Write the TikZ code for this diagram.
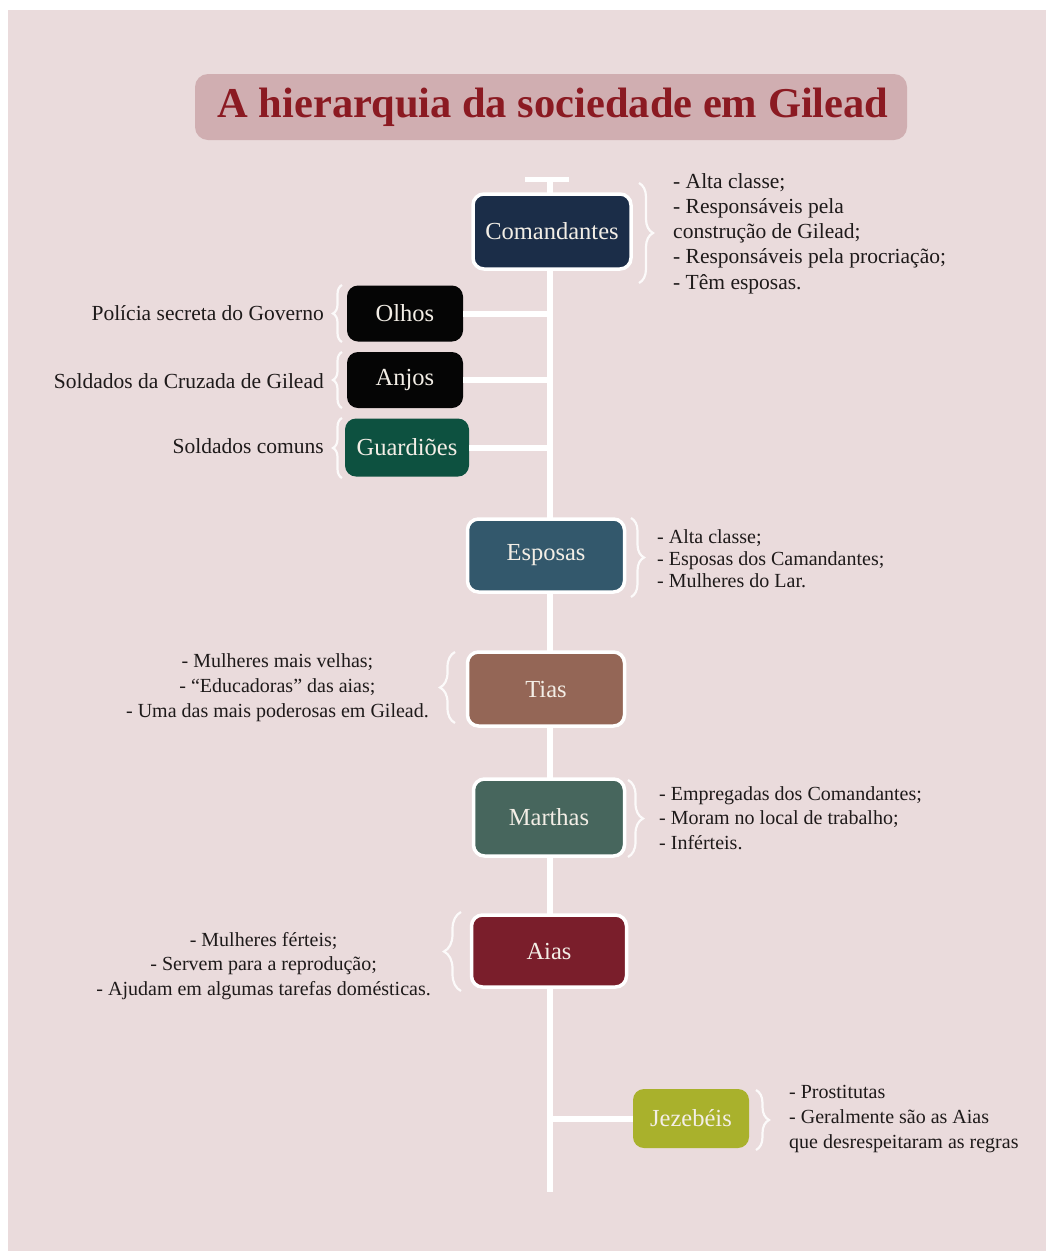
\documentclass[tikz,border=0pt]{standalone}
\usepackage{fontspec}
\setmainfont{Liberation Serif}
\usetikzlibrary{decorations.pathreplacing}
\definecolor{bg}{HTML}{EADBDC}
\definecolor{titlebg}{HTML}{D0AEB1}
\definecolor{titlefg}{HTML}{8B1A22}
\definecolor{labelfg}{HTML}{F3EEE6}
\definecolor{cComandantes}{HTML}{1B2D48}
\definecolor{cOlhos}{HTML}{050505}
\definecolor{cGuardioes}{HTML}{0D5140}
\definecolor{cEsposas}{HTML}{33586C}
\definecolor{cTias}{HTML}{946656}
\definecolor{cMarthas}{HTML}{47665D}
\definecolor{cAias}{HTML}{7A1E2B}
\definecolor{cJezebeis}{HTML}{A9B12C}
\definecolor{txt}{HTML}{1E1A1A}
\definecolor{linec}{HTML}{FFFFFF}
\definecolor{bracec}{HTML}{FCFAFA}
\tikzset{
  rankbox/.style={rounded corners=11pt, inner sep=0pt, text=labelfg,
    font=\fontsize{24.5}{28}\selectfont},
  framed/.style={rankbox, draw=white, line width=3.5pt},
  plain/.style={rankbox, draw=none},
  desc/.style={inner sep=0pt, text=txt, font=\fontsize{21.5}{25.2}\selectfont},
  descs/.style={inner sep=0pt, text=txt, font=\fontsize{20}{22}\selectfont},
  axis/.style={draw=linec, line width=6pt},
  branch/.style={draw=linec, line width=6pt},
  bracer/.style={draw=bracec, line width=2.2pt, decorate,
    decoration={brace, amplitude=#1}},
  bracer/.default=12pt
}
\begin{document}
\begin{tikzpicture}[x=1pt, y=-1pt]
\useasboundingbox (0,0) rectangle (1046,1251);
\fill[white] (0,0) rectangle (1046,1251);
\fill[bg] (8,10) rectangle (1046,1251);

% title
\node[fill=titlebg, rounded corners=13pt, minimum width=712pt, minimum height=66pt,
  inner sep=0pt] (titlebox) at (551,107) {};
\node[text=titlefg, font=\bfseries\fontsize{42.5}{48}\selectfont] (title) at (553,107) {A hierarquia da sociedade em Gilead};

% axis
\coordinate (top) at (550,181);
\coordinate (bot) at (550,1192);
\coordinate (capl) at (525,179);
\coordinate (capr) at (569,179);
\draw[axis] (top) -- (bot);
\draw[draw=linec, line width=5pt] (capl) -- (capr);

% boxes
\node[framed, fill=cComandantes, minimum width=158pt, minimum height=75pt] (com) at (552,231.5) {Comandantes};
\node[plain, fill=cOlhos, minimum width=116pt, minimum height=56pt] (olh) at (405,313.5) {Olhos};
\node[plain, fill=cOlhos, minimum width=116pt, minimum height=56pt] (anj) at (405,380) {Anjos};
\node[plain, fill=cGuardioes, minimum width=124pt, minimum height=58pt] (gua) at (407,447.5) {Guardiões};
\node[framed, fill=cEsposas, minimum width=157pt, minimum height=73pt] (esp) at (546,555.5) {Esposas};
\node[framed, fill=cTias, minimum width=157pt, minimum height=74pt] (tia) at (546,689) {Tias};
\node[framed, fill=cMarthas, minimum width=151pt, minimum height=77pt] (mar) at (549,817.5) {Marthas};
\node[framed, fill=cAias, minimum width=155pt, minimum height=72pt] (aia) at (549,951) {Aias};
\node[plain, fill=cJezebeis, minimum width=116pt, minimum height=59pt] (jez) at (691,1118.5) {Jezebéis};

% branches
\draw[branch] (olh.east) -- (olh.east -| top);
\draw[branch] (anj.east) -- (anj.east -| top);
\draw[branch] (gua.east) -- (gua.east -| top);
\draw[branch] (jez.west) -- (jez.west -| top);

% descriptions
\node[desc, align=left, anchor=west] (dcom) at (673,233.5) {- Alta classe;\\- Responsáveis pela\\construção de Gilead;\\- Responsáveis pela procriação;\\- Têm esposas.};
\node[desc, anchor=east] (dolh) at (324,313) {Polícia secreta do Governo};
\node[desc, anchor=east] (danj) at (324,381) {Soldados da Cruzada de Gilead};
\node[desc, anchor=east] (dgua) at (324,446) {Soldados comuns};
\node[descs, align=left, anchor=west] (desp) at (657,559) {- Alta classe;\\- Esposas dos Camandantes;\\- Mulheres do Lar.};
\node[descs, align=center, anchor=east, font=\fontsize{20}{25}\selectfont] (dtia) at (429,688) {- Mulheres mais velhas;\\- “Educadoras” das aias;\\- Uma das mais poderosas em Gilead.};
\node[descs, align=left, anchor=west, font=\fontsize{20}{24.5}\selectfont] (dmar) at (659,818) {- Empregadas dos Comandantes;\\- Moram no local de trabalho;\\- Inférteis.};
\node[descs, align=center, anchor=east, font=\fontsize{20}{24.5}\selectfont] (daia) at (431,966) {- Mulheres férteis;\\- Servem para a reprodução;\\- Ajudam em algumas tarefas domésticas.};
\node[descs, align=left, anchor=west, font=\fontsize{20}{25}\selectfont] (djez) at (789,1119) {- Prostitutas\\- Geralmente são as Aias\\que desrespeitaram as regras};

% braces
\coordinate (bc1) at (639,183); \coordinate (bc2) at (639,283);
\draw[bracer=14pt] (bc1) -- (bc2);
\coordinate (bo1) at (342,342); \coordinate (bo2) at (342,285);
\draw[bracer=9pt] (bo1) -- (bo2);
\coordinate (ba1) at (342,408); \coordinate (ba2) at (342,352);
\draw[bracer=9pt] (ba1) -- (ba2);
\coordinate (bg1) at (342,478); \coordinate (bg2) at (342,418);
\draw[bracer=9pt] (bg1) -- (bg2);
\coordinate (be1) at (631,518); \coordinate (be2) at (631,597);
\draw[bracer=13pt] (be1) -- (be2);
\coordinate (bt1) at (455,723); \coordinate (bt2) at (455,652);
\draw[bracer=15pt] (bt1) -- (bt2);
\coordinate (bm1) at (628,780); \coordinate (bm2) at (628,857);
\draw[bracer=15pt] (bm1) -- (bm2);
\coordinate (bi1) at (461,991); \coordinate (bi2) at (461,912);
\draw[bracer=17pt] (bi1) -- (bi2);
\coordinate (bj1) at (756,1090); \coordinate (bj2) at (756,1150);
\draw[bracer=13pt] (bj1) -- (bj2);
\end{tikzpicture}
\end{document}
